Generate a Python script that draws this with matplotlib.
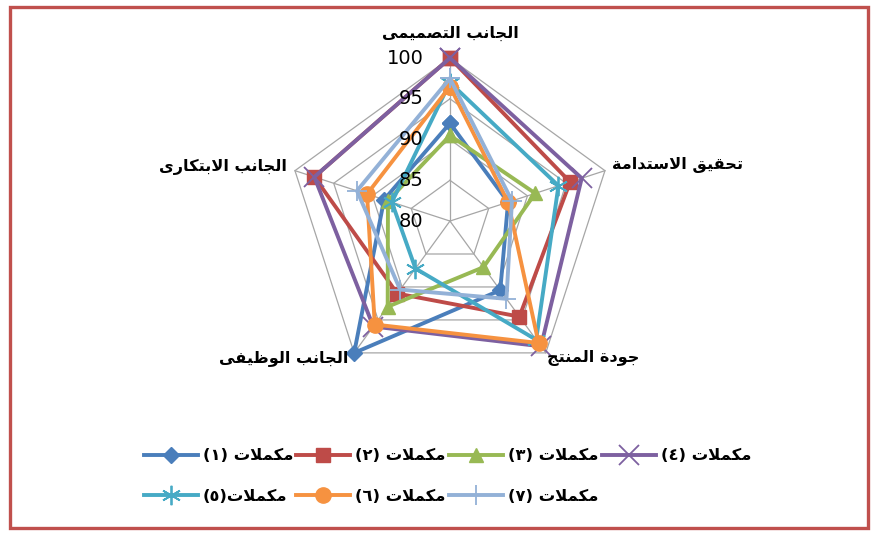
import unicodedata as ud
import numpy as np
import matplotlib
matplotlib.use('Agg')
import matplotlib.pyplot as plt
from matplotlib.patches import Rectangle


def _form(ch, kind):
    try:
        return ud.lookup(ud.name(ch) + ' ' + kind + ' FORM')
    except (KeyError, ValueError):
        return None


def _is_ar(c):
    return c is not None and (c == 'LA' or 'ARABIC LETTER' in ud.name(c, ''))


def _joins_next(c):
    return c != 'LA' and _form(c, 'INITIAL') is not None


def ar(text):
    # simple arabic shaping + visual (rtl) order for matplotlib
    chars, i = [], 0
    while i < len(text):
        if text[i] == 'ل' and i + 1 < len(text) and text[i + 1] == 'ا':
            chars.append('LA')
            i += 2
        else:
            chars.append(text[i])
            i += 1
    out = []
    for k, ch in enumerate(chars):
        prev = chars[k - 1] if k > 0 else None
        nxt = chars[k + 1] if k + 1 < len(chars) else None
        from_prev = _is_ar(prev) and _joins_next(prev)
        if ch == 'LA':
            out.append('\ufefc' if from_prev else '\ufefb')
            continue
        if not _is_ar(ch):
            out.append(ch)
            continue
        to_next = _joins_next(ch) and _is_ar(nxt)
        kind = {(True, True): 'MEDIAL', (True, False): 'FINAL',
                (False, True): 'INITIAL', (False, False): 'ISOLATED'}[(from_prev, to_next)]
        out.append(_form(ch, kind) or ch)
    s = ''.join(out)[::-1]
    return s.translate(str.maketrans('()', ')('))


# Data
categories = ['الجانب التصميمى', 'تحقيق الاستدامة', 'جودة المنتج',
              'الجانب الوظيفى', 'الجانب الابتكارى']
series_names = ['مكملات (١)', 'مكملات (٢)', 'مكملات (٣)', 'مكملات (٤)',
                'مكملات(٥)', 'مكملات (٦)', 'مكملات (٧)']
s1 = [92, 87.5, 90.5, 100, 88.5]
s2 = [100, 95.5, 94.5, 91, 97.5]
s3 = [90.5, 91, 87, 93, 88]
s4 = [100, 97, 99, 96, 97.5]
s5 = [97, 94, 98, 87.2, 87.5]
s6 = [96.5, 87.5, 98.5, 95.7, 90.7]
s7 = [97.5, 88, 91.8, 90.4, 92]
r_ticks = [80, 85, 90, 95, 100]

series = [s1, s2, s3, s4, s5, s6, s7]
colors = ['#4A7EBB', '#BE4B48', '#98B954', '#7D60A0', '#46AAC5', '#F69240', '#93B1D7']
markers = ['D', 's', '^', 'x', (6, 2, 0), 'o', '+']
msizes = [8, 10, 10, 14, 14, 11, 14]

fig = plt.figure(figsize=(8.76, 5.33), dpi=100)
ax = fig.add_axes([0.3276, 0.2795, 0.3721, 0.6116], projection='polar')
ax.set_theta_zero_location('N')
ax.set_theta_direction(-1)
ax.set_ylim(r_ticks[0], r_ticks[-1])
ax.grid(False)
ax.set_xticks([])
ax.set_yticks([])
ax.spines['polar'].set_visible(False)
ax.patch.set_visible(False)

n = len(categories)
angles = np.arange(n) * 2 * np.pi / n
closed = np.append(angles, angles[0])

# pentagon grid + spokes
for r in r_ticks[1:]:
    ax.plot(closed, [r] * (n + 1), color='#A6A6A6', lw=0.9, zorder=1, clip_on=False)
for a in angles:
    ax.plot([a, a], [r_ticks[0], r_ticks[-1]], color='#A6A6A6', lw=0.9, zorder=1, clip_on=False)

handles = []
for vals, c, m, ms, name in zip(series, colors, markers, msizes, series_names):
    thin = m in ('x', '+') or isinstance(m, tuple)
    h, = ax.plot(closed, vals + vals[:1], color=c, lw=2.8, marker=m, markersize=ms,
                 markerfacecolor=c, markeredgecolor=c, markeredgewidth=1.3 if thin else 1,
                 clip_on=False, zorder=3, label=ar(name))
    handles.append(h)

# value labels on the top spoke
for r in r_ticks:
    ax.annotate(str(r), xy=(0, r), xytext=(-19, 0), textcoords='offset points',
                ha='right', va='center', fontsize=14, annotation_clip=False)

# category labels
lab_off = [(0, 12, 'center', 'bottom'), (5, 4, 'left', 'center'),
           (1, -4, 'left', 'center'), (-4, -4, 'right', 'center'), (-6, 3, 'right', 'center')]
for a, txt, (dx, dy, ha, va) in zip(angles, categories, lab_off):
    ax.annotate(ar(txt), xy=(a, r_ticks[-1]), xytext=(dx, dy), textcoords='offset points',
                ha=ha, va=va, fontsize=11.6, fontweight='bold', annotation_clip=False)

# legend: two rows, column-major order so rows read 1-4 and 5-7
order = [0, 4, 1, 5, 2, 6, 3]
fig.legend(handles=[handles[i] for i in order], ncol=4, frameon=False,
           prop={'size': 11.8, 'weight': 'bold'}, handlelength=3.3, handletextpad=0.3,
           columnspacing=0.2, labelspacing=1.55, loc='center left',
           bbox_to_anchor=(0.147, 1 - 476 / 533))

fig.patches.append(Rectangle((10 / 876, 5 / 533), 858 / 876, 521 / 533, transform=fig.transFigure,
                             fill=False, edgecolor='#C0504D', lw=2.4))

fig.savefig('out.png', dpi=100)
